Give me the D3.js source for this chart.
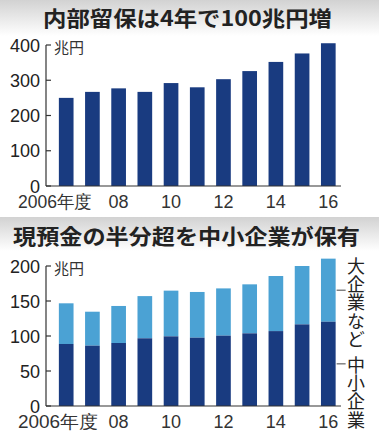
<!DOCTYPE html>
<html>
<head>
<meta charset="utf-8">
<script src="https://cdn.jsdelivr.net/npm/d3@7"></script>
<style>
  body { margin: 0; background: #fff; }
  svg { display: block; }
</style>
</head>
<body>
<div id="chart"></div>
<script>
// data
var years = [2006, 2007, 2008, 2009, 2010, 2011, 2012, 2013, 2014, 2015, 2016];
var yearLabels = ["2006年度", "", "08", "", "10", "", "12", "", "14", "", "16"];
var retained = [250, 267, 277, 267, 292, 280, 303, 326, 352, 376, 405];
var cashSmall = [88.6, 86.2, 90, 96.7, 99.5, 97.6, 100.5, 103.8, 107, 116.6, 120.4];
var cashTotal = [146.7, 134.7, 142.9, 157, 164.8, 162.9, 168, 173.8, 185.7, 200, 210.5];
var topTicks = [0, 100, 200, 300, 400];
var bottomTicks = [0, 50, 100, 150, 200];

var W = 379, H = 435;
var numFont = "'Liberation Sans Narrow', 'Liberation Sans', Arial, sans-serif";
var jpFont = "'Noto Sans CJK JP', 'Noto Sans', sans-serif";
var dark = "#193b80";
var light = "#4ba2d4";
var ink = "#222";

var svg = d3.select("#chart").append("svg")
	.attr("width", W)
	.attr("height", H);

var defs = svg.append("defs");
var grad = defs.append("linearGradient")
	.attr("id", "band")
	.attr("x1", 0).attr("y1", 0).attr("x2", 0).attr("y2", 1);
grad.append("stop").attr("offset", "0%").attr("stop-color", "#d2d2d2");
grad.append("stop").attr("offset", "100%").attr("stop-color", "#ffffff");

svg.append("rect").attr("x", 0).attr("y", 0).attr("width", W).attr("height", H).attr("fill", "#fff");
svg.append("rect").attr("x", 0).attr("y", 0).attr("width", W).attr("height", 36).attr("fill", "url(#band)");
svg.append("rect").attr("x", 0).attr("y", 217).attr("width", W).attr("height", 34).attr("fill", "url(#band)");

function title(txt, x, y, len) {
	svg.append("text")
		.attr("x", x)
		.attr("y", y)
		.attr("font-family", jpFont)
		.attr("font-weight", "bold")
		.attr("font-size", "21px")
		.attr("fill", ink)
		.attr("textLength", len)
		.attr("lengthAdjust", "spacingAndGlyphs")
		.text(txt);
}

title("内部留保は4年で100兆円増", 43, 26, 289);
title("現預金の半分超を中小企業が保有", 13, 244, 347);

var x = d3.scaleBand()
	.domain(years)
	.range([51, 343.5])
	.paddingInner(0.44)
	.paddingOuter(0.3);

function drawAxes(g, y, ticks, labelY, firstLen) {
	var axisX = 46;
	// vertical axis line
	g.append("line")
		.attr("x1", axisX).attr("x2", axisX)
		.attr("y1", y(ticks[ticks.length - 1])).attr("y2", y(0))
		.attr("stroke", "#333").attr("stroke-width", 1.2);
	// baseline
	g.append("line")
		.attr("x1", axisX).attr("x2", 341)
		.attr("y1", y(0)).attr("y2", y(0))
		.attr("stroke", "#333").attr("stroke-width", 1.2);

	g.selectAll(".tick").data(ticks).enter().append("line")
		.attr("x1", axisX).attr("x2", axisX + 5)
		.attr("y1", function(d){ return y(d); })
		.attr("y2", function(d){ return y(d); })
		.attr("stroke", "#333").attr("stroke-width", 1.2);

	g.selectAll(".ylab").data(ticks).enter().append("text")
		.attr("x", 40)
		.attr("y", function(d){ return y(d) + 6.5; })
		.attr("text-anchor", "end")
		.attr("font-family", numFont)
		.attr("font-size", "18px")
		.attr("fill", ink)
		.text(function(d){ return d; });

	g.append("text")
		.attr("x", 54)
		.attr("y", y(ticks[ticks.length - 1]) + 8)
		.attr("font-family", jpFont)
		.attr("font-size", "15px")
		.attr("fill", "#333")
		.text("兆円");

	g.selectAll(".xlab").data(years).enter().append("text")
		.attr("x", function(d, i){
			return i == 0 ? 18 : x(d) + x.bandwidth() / 2;
		})
		.attr("y", labelY)
		.attr("text-anchor", function(d, i){ return i == 0 ? "start" : "middle"; })
		.attr("font-family", numFont)
		.attr("font-size", "18px")
		.attr("fill", "#333")
		.attr("textLength", function(d, i){ return i == 0 ? firstLen : null; })
		.attr("lengthAdjust", "spacingAndGlyphs")
		.text(function(d, i){ return yearLabels[i]; });
}

// top chart
var yTop = d3.scaleLinear().domain([0, 400]).range([186, 45]);
var gTop = svg.append("g");

gTop.selectAll(".bar").data(retained).enter().append("rect")
	.attr("x", function(d, i){ return x(years[i]); })
	.attr("y", function(d){ return yTop(d); })
	.attr("width", x.bandwidth())
	.attr("height", function(d){ return yTop(0) - yTop(d); })
	.attr("fill", dark);

drawAxes(gTop, yTop, topTicks, 208, 74);

// bottom chart
var yBot = d3.scaleLinear().domain([0, 200]).range([406, 266]);
var gBot = svg.append("g");

gBot.selectAll(".big").data(cashTotal).enter().append("rect")
	.attr("x", function(d, i){ return x(years[i]); })
	.attr("y", function(d){ return yBot(d); })
	.attr("width", x.bandwidth())
	.attr("height", function(d, i){ return yBot(cashSmall[i]) - yBot(d); })
	.attr("fill", light);

gBot.selectAll(".small").data(cashSmall).enter().append("rect")
	.attr("x", function(d, i){ return x(years[i]); })
	.attr("y", function(d){ return yBot(d); })
	.attr("width", x.bandwidth())
	.attr("height", function(d){ return yBot(0) - yBot(d); })
	.attr("fill", dark);

drawAxes(gBot, yBot, bottomTicks, 428, 80);

// vertical legend labels next to the last bar
var last = years.length - 1;
var lx = x(years[last]) + x.bandwidth();
var legends = [
	{ text: "大企業など", mid: (yBot(cashTotal[last]) + yBot(cashSmall[last])) / 2, top: 257 },
	{ text: "中小企業", mid: (yBot(cashSmall[last]) + yBot(0)) / 2, top: 356 }
];

legends.forEach(function(l){
	gBot.append("line")
		.attr("x1", lx + 1).attr("x2", lx + 10)
		.attr("y1", l.mid).attr("y2", l.mid)
		.attr("stroke", "#444").attr("stroke-width", 1);
	gBot.append("text")
		.attr("x", 356)
		.attr("y", l.top)
		.attr("font-family", jpFont)
		.attr("font-size", "18px")
		.attr("letter-spacing", "0.3px")
		.attr("fill", ink)
		.style("writing-mode", "vertical-rl")
		.text(l.text);
});
</script>
</body>
</html>
